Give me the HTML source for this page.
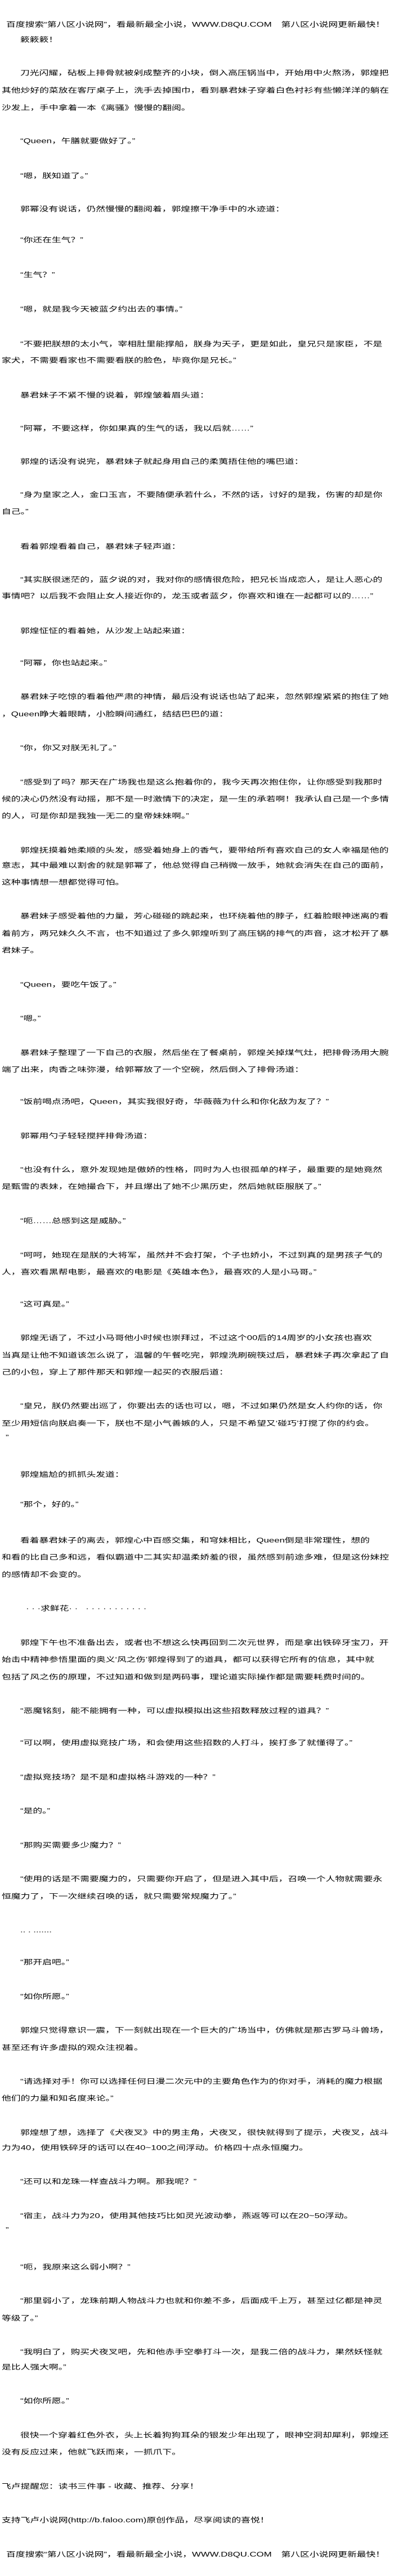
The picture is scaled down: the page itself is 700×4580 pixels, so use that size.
<!DOCTYPE html>
<html><head><meta charset="utf-8">
<style>
html,body{margin:0;padding:0;background:#fff;}
body{width:700px;height:4580px;position:relative;overflow:hidden;}
p{position:absolute;left:3px;margin:-12px 0 0 0;height:24px;line-height:24px;font-size:16.8px;white-space:nowrap;color:#000;
font-family:"Liberation Sans","Noto Sans CJK SC",sans-serif;transform:scaleY(0.72);transform-origin:0 50%;}
p.i{left:36px;}
</style></head><body>
<p style="top:44px;left:11px">百度搜索“第八区小说网”，看最新最全小说，WWW.D8QU.COM　第八区小说网更新最快！</p>
<p class="i" style="top:71px">簌簌簌！</p>
<p class="i" style="top:130px">刀光闪耀，砧板上排骨就被剁成整齐的小块，倒入高压锅当中，开始用中火熬汤，郭煌把</p>
<p style="top:161px">其他炒好的菜放在客厅桌子上，洗手去掉围巾，看到暴君妹子穿着白色衬衫有些懒洋洋的躺在</p>
<p style="top:192px">沙发上，手中拿着一本《离骚》慢慢的翻阅。</p>
<p class="i" style="top:251px">“Queen，午膳就要做好了。”</p>
<p class="i" style="top:313px">“嗯，朕知道了。”</p>
<p class="i" style="top:372px">郭幂没有说话，仍然慢慢的翻阅着，郭煌擦干净手中的水迹道：</p>
<p class="i" style="top:427px">“你还在生气？”</p>
<p class="i" style="top:489px">“生气？”</p>
<p class="i" style="top:550px">“嗯，就是我今天被蓝夕约出去的事情。”</p>
<p class="i" style="top:612px">“不要把朕想的太小气，宰相肚里能撑船，朕身为天子，更是如此，皇兄只是家臣，不是</p>
<p style="top:641px">家犬，不需要看家也不需要看朕的脸色，毕竟你是兄长。”</p>
<p class="i" style="top:703px">暴君妹子不紧不慢的说着，郭煌皱着眉头道：</p>
<p class="i" style="top:762px">“阿幂，不要这样，你如果真的生气的话，我以后就……”</p>
<p class="i" style="top:821px">郭煌的话没有说完，暴君妹子就起身用自己的柔荑捂住他的嘴巴道：</p>
<p class="i" style="top:880px">“身为皇家之人，金口玉言，不要随便承若什么，不然的话，讨好的是我，伤害的却是你</p>
<p style="top:910px">自己。”</p>
<p class="i" style="top:972px">看着郭煌看着自己，暴君妹子轻声道：</p>
<p class="i" style="top:1031px">“其实朕很迷茫的，蓝夕说的对，我对你的感情很危险，把兄长当成恋人，是让人恶心的</p>
<p style="top:1060px">事情吧？以后我不会阻止女人接近你的，龙玉或者蓝夕，你喜欢和谁在一起都可以的……”</p>
<p class="i" style="top:1122px">郭煌怔怔的看着她，从沙发上站起来道：</p>
<p class="i" style="top:1179px">“阿幂，你也站起来。”</p>
<p class="i" style="top:1239px">暴君妹子吃惊的看着他严肃的神情，最后没有说话也站了起来，忽然郭煌紧紧的抱住了她</p>
<p style="top:1270px">，Queen睁大着眼睛，小脸瞬间通红，结结巴巴的道：</p>
<p class="i" style="top:1330px">“你，你又对朕无礼了。”</p>
<p class="i" style="top:1391px">“感受到了吗？那天在广场我也是这么抱着你的，我今天再次抱住你，让你感受到我那时</p>
<p style="top:1421px">候的决心仍然没有动摇，那不是一时激情下的决定，是一生的承若啊！我承认自己是一个多情</p>
<p style="top:1451px">的人，可是你却是我独一无二的皇帝妹妹啊。”</p>
<p class="i" style="top:1512px">郭煌抚摸着她柔顺的头发，感受着她身上的香气，要带给所有喜欢自己的女人幸福是他的</p>
<p style="top:1539px">意志，其中最难以割舍的就是郭幂了，他总觉得自己稍微一放手，她就会消失在自己的面前，</p>
<p style="top:1569px">这种事情想一想都觉得可怕。</p>
<p class="i" style="top:1629px">暴君妹子感受着他的力量，芳心碰碰的跳起来，也环绕着他的脖子，红着脸眼神迷离的看</p>
<p style="top:1660px">着前方，两兄妹久久不言，也不知道过了多久郭煌听到了高压锅的排气的声音，这才松开了暴</p>
<p style="top:1690px">君妹子。</p>
<p class="i" style="top:1751px">“Queen，要吃午饭了。”</p>
<p class="i" style="top:1811px">“嗯。”</p>
<p class="i" style="top:1872px">暴君妹子整理了一下自己的衣服，然后坐在了餐桌前，郭煌关掉煤气灶，把排骨汤用大腕</p>
<p style="top:1902px">端了出来，肉香之味弥漫，给郭幂放了一个空碗，然后倒入了排骨汤道：</p>
<p class="i" style="top:1959px">“饭前喝点汤吧，Queen，其实我很好奇，华薇薇为什么和你化敌为友了？”</p>
<p class="i" style="top:2020px">郭幂用勺子轻轻搅拌排骨汤道：</p>
<p class="i" style="top:2080px">“也没有什么，意外发现她是傲娇的性格，同时为人也很孤单的样子，最重要的是她竟然</p>
<p style="top:2110px">是甄雪的表妹，在她撮合下，并且爆出了她不少黑历史，然后她就臣服朕了。”</p>
<p class="i" style="top:2171px">“呃……总感到这是威胁。”</p>
<p class="i" style="top:2232px">“呵呵，她现在是朕的大将军，虽然并不会打架，个子也娇小，不过到真的是男孩子气的</p>
<p style="top:2262px">人，喜欢看黑帮电影，最喜欢的电影是《英雄本色》，最喜欢的人是小马哥。”</p>
<p class="i" style="top:2319px">“这可真是。”</p>
<p class="i" style="top:2379px">郭煌无语了，不过小马哥他小时候也崇拜过，不过这个00后的14周岁的小女孩也喜欢</p>
<p style="top:2410px">当真是让他不知道该怎么说了，温馨的午餐吃完，郭煌洗刷碗筷过后，暴君妹子再次拿起了自</p>
<p style="top:2440px">己的小包，穿上了那件那天和郭煌一起买的衣服后道：</p>
<p class="i" style="top:2500px">“皇兄，朕仍然要出巡了，你要出去的话也可以，嗯，不过如果仍然是女人约你的话，你</p>
<p style="top:2531px">至少用短信向朕启奏一下，朕也不是小气善嫉的人，只是不希望又‘碰巧’打搅了你的约会。</p>
<p style="top:2556px;left:10px">”</p>
<p class="i" style="top:2622px">郭煌尴尬的抓抓头发道：</p>
<p class="i" style="top:2675px">“那个，好的。”</p>
<p class="i" style="top:2739px">看着暴君妹子的离去，郭煌心中百感交集，和穹妹相比，Queen倒是非常理性，想的</p>
<p style="top:2769px">和看的比自己多和远，看似霸道中二其实却温柔娇羞的很，虽然感到前途多难，但是这份妹控</p>
<p style="top:2800px">的感情却不会变的。</p>
<p style="top:2860px;left:46px">·&nbsp;·&nbsp;·求鲜花·&nbsp;·&nbsp;&nbsp;&nbsp;·&nbsp;·&nbsp;·&nbsp;·&nbsp;·&nbsp;·&nbsp;·&nbsp;·&nbsp;·&nbsp;·&nbsp;·</p>
<p class="i" style="top:2921px">郭煌下午也不准备出去，或者也不想这么快再回到二次元世界，而是拿出铁碎牙宝刀，开</p>
<p style="top:2951px">始击中精神参悟里面的奥义‘风之伤’郭煌得到了的道具，都可以获得它所有的信息，其中就</p>
<p style="top:2982px">包括了风之伤的原理，不过知道和做到是两码事，理论道实际操作都是需要耗费时间的。</p>
<p class="i" style="top:3042px">“恶魔铭刻，能不能拥有一种，可以虚拟模拟出这些招数释放过程的道具？”</p>
<p class="i" style="top:3099px">“可以啊，使用虚拟竞技广场，和会使用这些招数的人打斗，挨打多了就懂得了。”</p>
<p class="i" style="top:3160px">“虚拟竞技场？是不是和虚拟格斗游戏的一种？”</p>
<p class="i" style="top:3220px">“是的。”</p>
<p class="i" style="top:3281px">“那购买需要多少魔力？”</p>
<p class="i" style="top:3341px">“使用的话是不需要魔力的，只需要你开启了，但是进入其中后，召唤一个人物就需要永</p>
<p style="top:3372px">恒魔力了，下一次继续召唤的话，就只需要常规魔力了。”</p>
<p class="i" style="top:3432px">.. . .......</p>
<p class="i" style="top:3489px">“那开启吧。”</p>
<p class="i" style="top:3550px">“如你所愿。”</p>
<p class="i" style="top:3610px">郭煌只觉得意识一震，下一刻就出现在一个巨大的广场当中，仿佛就是那古罗马斗兽场，</p>
<p style="top:3641px">甚至还有许多虚拟的观众注视着。</p>
<p class="i" style="top:3701px">“请选择对手！你可以选择任何日漫二次元中的主要角色作为的你对手，消耗的魔力根据</p>
<p style="top:3731px">他们的力量和知名度来论。”</p>
<p class="i" style="top:3792px">郭煌想了想，选择了《犬夜叉》中的男主角，犬夜叉，很快就得到了提示，犬夜叉，战斗</p>
<p style="top:3819px">力为40，使用铁碎牙的话可以在40~100之间浮动。价格四十点永恒魔力。</p>
<p class="i" style="top:3879px">“还可以和龙珠一样查战斗力啊。那我呢？”</p>
<p class="i" style="top:3940px">“宿主，战斗力为20，使用其他技巧比如灵光波动拳，燕返等可以在20~50浮动。</p>
<p style="top:3965px;left:10px">”</p>
<p class="i" style="top:4031px">“呃，我原来这么弱小啊？”</p>
<p class="i" style="top:4091px">“那里弱小了，龙珠前期人物战斗力也就和你差不多，后面成千上万，甚至过亿都是神灵</p>
<p style="top:4122px">等级了。”</p>
<p class="i" style="top:4182px">“我明白了，购买犬夜叉吧，先和他赤手空拳打斗一次，是我二倍的战斗力，果然妖怪就</p>
<p style="top:4209px">是比人强大啊。”</p>
<p class="i" style="top:4269px">“如你所愿。”</p>
<p class="i" style="top:4330px">很快一个穿着红色外衣，头上长着狗狗耳朵的银发少年出现了，眼神空洞却犀利，郭煌还</p>
<p style="top:4360px">没有反应过来，他就飞跃而来，一抓爪下。</p>
<p style="top:4421px">飞卢提醒您：读书三件事 - 收藏、推荐、分享！</p>
<p style="top:4481px">支持飞卢小说网(http://b.faloo.com)原创作品，尽享阅读的喜悦！</p>
<p style="top:4542px;left:11px">百度搜索“第八区小说网”，看最新最全小说，WWW.D8QU.COM　第八区小说网更新最快！</p>
</body></html>
